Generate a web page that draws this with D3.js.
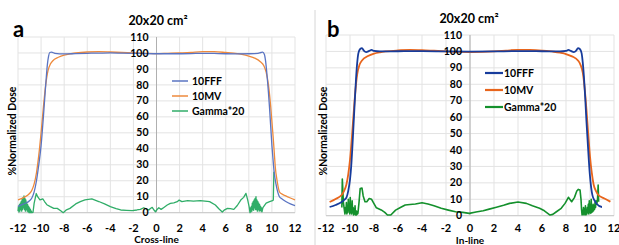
<!DOCTYPE html>
<html><head><meta charset="utf-8">
<script src="https://cdn.jsdelivr.net/npm/d3@7"></script>
<style>
html,body{margin:0;padding:0;background:#fff;}
svg text{font-family:Lato,"Open Sans",sans-serif;font-weight:bold;fill:#000;}
</style></head>
<body><svg id="c" width="619" height="245"></svg>
<script>
// ---------- data ----------
const xTicks = [-12,-10,-8,-6,-4,-2,0,2,4,6,8,10,12];
const yTicks = [0,10,20,30,40,50,60,70,80,90,100,110];
const seriesNames = ["10FFF","10MV","Gamma*20"];

// Panel a (Cross-line)
const aFFFx = [-12,-11.5,-11,-10.8,-10.6,-10.4,-10.2,-10.0,-9.8,-9.6,-9.45,-9.35,-9.25,-9.1,-8.8,-8,-7,-6,-5,-4,-3,-2,-1,0,1,2,3,4,5,6,7,8,8.8,9.05,9.2,9.35,9.45,9.6,9.8,10.0,10.1,10.2,10.35,10.5,10.65,10.8,11.2,11.6,12];
const aFFFy = [4,5.5,7.5,9.2,13,20,30,42,60,80,93,98,100.3,100.5,99.8,99.4,99.6,99.8,99.9,100,99.9,99.8,99.6,99.5,99.5,99.5,99.6,99.8,99.7,99.5,99.4,99.5,99.8,100.3,100.5,99,95,84,65,42,33,25,18,13,10,9,7,5.5,4.5];
const aMVx = [-12,-11.5,-11,-10.8,-10.6,-10.4,-10.2,-10.0,-9.8,-9.6,-9.4,-9.2,-9.0,-8.5,-8,-7.5,-7,-6,-5,-4,-3,-2,-1,0,1,2,3,4,5,6,7,7.5,8,8.5,9,9.3,9.5,9.7,9.9,10.1,10.2,10.3,10.45,10.65,10.8,11.2,11.6,12];
const aMVy = [8,9.5,12,14,18,25,36,50,66,80,89,93,95,97.3,98.7,99.5,100,100.6,100.8,100.6,100.3,100,99.8,99.6,99.8,100,100.4,100.8,100.8,100.3,99.6,99,98,96.8,94.5,92,88,80,66,48,38,28,20,13.1,12,10.5,9.2,8];
const aGamx = [-12.00,-11.96,-11.92,-11.88,-11.84,-11.80,-11.76,-11.72,-11.68,-11.64,-11.60,-11.56,-11.52,-11.48,-11.44,-11.40,-11.36,-11.32,-11.28,-11.24,-11.20,-11.16,-11.12,-11.08,-11.04,-11.00,-10.96,-10.92,-10.88,-10.84,-10.80,
  -10.7,-10.6,-10.42,-10.3,-10.1,-9.85,-9.7,-9.5,-9.2,-8.9,-8.6,-8.3,-8.08,-7.8,-7.5,-7.0,-6.6,-6.2,-5.9,-5.6,-5.0,-4.5,-4.0,-3.5,-3.1,-2.6,-2.1,-1.7,-1.4,-1.1,-0.85,-0.67,-0.5,-0.37,-0.2,-0.09,0.05,0.2,0.4,0.64,0.93,1.2,1.5,1.8,1.96,2.2,2.7,3.2,3.8,4.2,4.6,5.1,5.4,5.7,5.9,6.15,6.4,6.7,7.0,7.3,7.55,7.75,7.9,8.02,8.1,
  8.14,8.18,8.22,8.26,8.30,8.34,8.38,8.42,8.46,8.50,8.54,8.58,8.62,8.66,8.70,8.74,8.78,8.82,8.86,8.90,8.94,8.98,9.02,9.06,9.10,9.14,9.18,
  9.22,9.5,9.8,10.05,10.12,10.17];
const aGamy = [1,4,0.5,5,1,6,2,7,1,8.5,2,9.5,3,10.5,2,9,1,8,2,6.5,1,5,0.5,4,0,3,0,2,0,1,0,
  0.2,6,12,10,8,8.7,7,5,3.8,2.7,2.7,1.2,0,1.8,2.7,5.5,6.9,8,8.4,8.6,7,5.5,3.8,2.5,1.7,1.5,1.3,1.7,2.1,3.1,2.3,1.7,2.8,3.3,1.5,0.6,2,3.1,2.1,3.3,4.8,5.8,6.2,6.9,7.9,6.9,7.5,7.3,7.5,7.3,6.9,4.8,2.5,0.4,1.8,2.7,2.5,2.1,4.5,7.9,9.6,12.1,8,4,0,
  3,0.5,4,1,6,2,7,1.5,8,3,9,2,10,2,8,1,7,2,6,1,5,1.5,4,1,3,0.5,2,
  3.2,6,6.9,7.5,8,25.7];

// Panel b (In-line)
const bFFFx = [-11.7,-11.2,-10.7,-10.5,-10.3,-10.15,-10.0,-9.9,-9.8,-9.7,-9.6,-9.5,-9.4,-9.3,-9.15,-9.0,-8.85,-8.65,-8.4,-8.2,-8.0,-7.5,-6,-4,-2,0,2,4,6,7.5,8.0,8.2,8.4,8.65,8.85,9.0,9.15,9.3,9.4,9.5,9.6,9.7,9.8,9.9,10.0,10.1,10.2,10.35,10.55,11.0,11.7];
const bFFFy = [5.3,6.5,8.3,9.5,11,15,22,30,42,56,70,83,93,99,101.5,102,100.5,99.6,100.3,100.9,100.3,100,100.1,100.2,100,99.9,100,100.2,100.1,100,100.3,100.9,100.3,99.6,100.5,102,101.5,99,93,84,72,58,46,34,24,17,12.5,9.6,7.3,5.3];
const bMVx = [-11.7,-11.2,-10.7,-10.5,-10.3,-10.15,-10.0,-9.85,-9.7,-9.55,-9.4,-9.2,-9.0,-8.5,-8,-7.5,-7,-6,-5,-4,-3,-2,-1,0,1,2,3,4,5,6,7,7.5,8,8.5,9,9.2,9.4,9.55,9.7,9.85,10.0,10.15,10.3,10.5,10.7,11.2,11.7];
const bMVy = [8.3,10.2,12.6,15,19,25,34,47,62,76,86,92,94.5,97.2,98.7,99.5,100,100.6,101,100.8,100.4,100,99.7,99.6,99.7,100,100.5,101,100.9,100.5,99.8,99.2,98.4,97,94.5,92,87,78,65,50,36,26,19,15,12.6,10.5,8.5];
const bGamx = [-10.68,-10.64,-10.55,-10.46,
  -10.42,-10.38,-10.34,-10.30,-10.26,-10.22,-10.18,-10.14,-10.10,-10.06,-10.02,-9.98,-9.94,-9.90,-9.86,-9.82,-9.78,-9.74,-9.70,-9.66,-9.62,-9.58,-9.54,-9.50,-9.46,-9.42,-9.38,-9.34,
  -9.25,-9.15,-9.0,-8.9,-8.75,-8.6,-8.4,-8.2,-8.05,-7.8,-7.4,-7.1,-6.88,-6.6,-6.2,-5.8,-5.4,-5.0,-4.55,-4.0,-3.5,-3.0,-2.4,-1.8,-1.2,-0.6,-0.06,0.5,1.1,1.6,2.2,2.8,3.3,4.0,4.7,5.2,5.8,6.2,6.67,6.9,7.2,7.6,7.92,8.2,8.47,8.7,8.9,9.03,9.17,9.25,9.3,
  9.34,9.38,9.42,9.46,9.50,9.54,9.58,9.62,9.66,9.70,9.74,9.78,9.82,9.86,9.90,9.94,9.98,10.02,10.06,10.10,10.14,10.18,10.22,10.26,10.30,10.34,10.38,10.42,10.46,10.50,10.55,
  10.62,10.68,10.72];
const bGamy = [5,22.3,8,3,
  1,5,2,8,1,6,2,10,3,7,1,11,2,6,1,9,2,5,0.5,4,1,6,0.5,3,0.5,2.5,1,1.5,
  8,16.6,16.8,12,8.5,8.5,10.5,10,8,4.8,3.5,2,0.4,0.4,3.4,5,6.5,6.8,7.1,7.9,7.1,6,4.5,3.4,2.4,2,1.4,2.2,3,4,5.1,6.3,7.5,8.3,7.5,6,4.5,3,0.4,0.8,2.4,4.5,7.5,11.2,8.5,11,15,16,15.6,10,3.5,
  0.5,3,1,5,0.5,4,1,6,0.5,3,1,5,2,7,1,9,2,4,1.5,10,2,5,2.5,7,3,6,4,8,5,9,7,
  9,18.6,8.5];

// ---------- drawing ----------
const svg = d3.select("#c");

function panel(cfg){
  const x = d3.scaleLinear().domain([-12,12]).range(cfg.xr);
  const y = d3.scaleLinear().domain([0,110]).range(cfg.yr);
  const g = svg.append("g");
  // grid
  g.append("g").selectAll("line").data(xTicks).join("line")
    .attr("x1",d=>x(d)).attr("x2",d=>x(d)).attr("y1",y(0)).attr("y2",y(110))
    .attr("stroke","#e3e3e3").attr("stroke-width",1);
  g.append("g").selectAll("line").data(yTicks).join("line")
    .attr("x1",x(-12)).attr("x2",x(12)).attr("y1",d=>y(d)).attr("y2",d=>y(d))
    .attr("stroke","#e3e3e3").attr("stroke-width",1);
  // axes lines
  g.append("line").attr("x1",x(0)).attr("x2",x(0)).attr("y1",y(0)).attr("y2",y(110))
    .attr("stroke","#b0b0b0").attr("stroke-width",1);
  g.append("line").attr("x1",x(-12)).attr("x2",x(12)).attr("y1",y(0)).attr("y2",y(0))
    .attr("stroke","#c8c8c8").attr("stroke-width",1);

  const lineC = d3.line().x(d=>x(d[0])).y(d=>y(d[1])).curve(d3.curveMonotoneX);
  const lineL = d3.line().x(d=>x(d[0])).y(d=>y(d[1]));
  const zip = (a,b)=>a.map((v,i)=>[v,b[i]]);
  g.append("path").datum(zip(cfg.gx,cfg.gy)).attr("d",lineL).attr("fill","none")
    .attr("stroke",cfg.colors[2]).attr("stroke-width",cfg.gw).attr("stroke-linejoin","round");
  g.append("path").datum(zip(cfg.mx,cfg.my)).attr("d",lineC).attr("fill","none")
    .attr("stroke",cfg.colors[1]).attr("stroke-width",cfg.lw);
  g.append("path").datum(zip(cfg.fx,cfg.fy)).attr("d",lineC).attr("fill","none")
    .attr("stroke",cfg.colors[0]).attr("stroke-width",cfg.lw);

  // y tick labels
  g.append("g").selectAll("text").data(yTicks).join("text")
    .attr("x",x(0)-8).attr("y",d=>y(d)+3.6).attr("text-anchor","end")
    .attr("font-size",10.5).text(d=>d);
  // x tick labels
  g.append("g").selectAll("text").data(xTicks).join("text")
    .attr("x",d=>x(d)).attr("y",cfg.xly).attr("text-anchor","middle")
    .attr("font-size",11).text(d=>d);
  // titles
  g.append("text").attr("x",cfg.tx).attr("y",cfg.ty).attr("text-anchor","middle")
    .attr("font-size",12.5).text("20x20 cm²");
  g.append("text").attr("x",cfg.lx).attr("y",37).attr("font-size",22).text(cfg.letter);
  g.append("text").attr("x",x(0)).attr("y",cfg.xty).attr("text-anchor","middle")
    .attr("font-size",10).text(cfg.xtitle);
  g.append("text").attr("transform",`translate(${cfg.ytx},131) rotate(-90)`)
    .attr("text-anchor","middle").attr("font-size",10.5).text("%Normalized Dose");
  // legend
  seriesNames.forEach((n,i)=>{
    const yy = cfg.legY + i*cfg.legDy;
    g.append("line").attr("x1",cfg.legX).attr("x2",cfg.legX+cfg.legL).attr("y1",yy).attr("y2",yy)
      .attr("stroke",cfg.colors[i]).attr("stroke-width",cfg.legW);
    g.append("text").attr("x",cfg.legX+cfg.legL+cfg.legGap).attr("y",yy+3.8)
      .attr("font-size",10.5).text(n);
  });
}

panel({xr:[18,295], yr:[212.7,37], fx:aFFFx, fy:aFFFy, mx:aMVx, my:aMVy, gx:aGamx, gy:aGamy,
  colors:["#5a74c2","#ee8a3c","#30ad68"], lw:1.3, gw:1.3, xly:231.5, xty:243, tx:158, ty:25,
  letter:"a", lx:13, ytx:16, xtitle:"Cross-line", legX:172, legL:16, legGap:4, legY:81, legDy:15, legW:1.5});
panel({xr:[326,614], yr:[215.7,35], fx:bFFFx, fy:bFFFy, mx:bMVx, my:bMVy, gx:bGamx, gy:bGamy,
  colors:["#173c9c","#e8651c","#14902c"], lw:1.8, gw:1.6, xly:232, xty:244, tx:469, ty:23,
  letter:"b", lx:327, ytx:327, xtitle:"In-line", legX:485, legL:18, legGap:1, legY:73, legDy:17, legW:2.2});

// separator between panels
svg.append("line").attr("x1",315).attr("x2",315).attr("y1",10).attr("y2",245)
  .attr("stroke","#d6d6d6").attr("stroke-width",1);
</script></body></html>
